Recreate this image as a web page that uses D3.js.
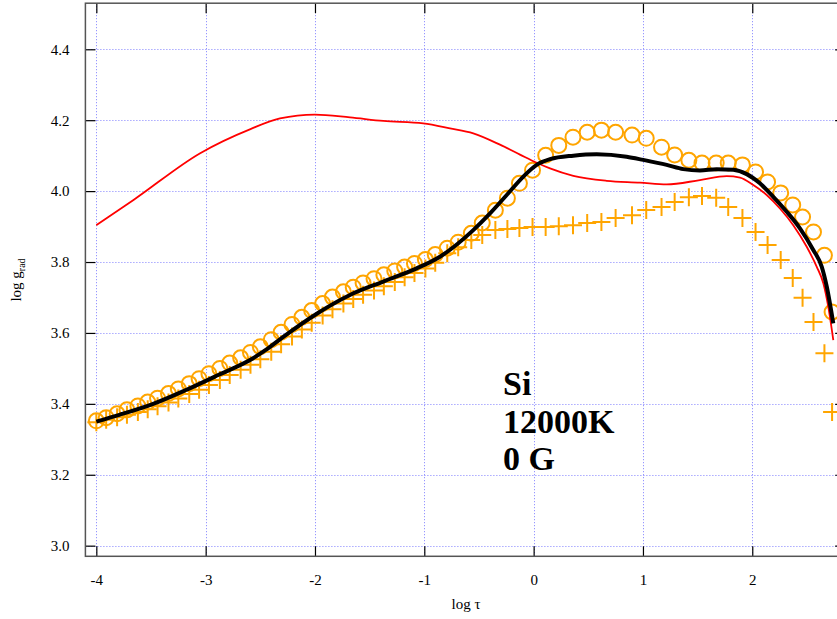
<!DOCTYPE html>
<html>
<head>
<meta charset="utf-8">
<script src="https://cdn.jsdelivr.net/npm/d3@7"></script>
<style>
  body { margin: 0; background: #fff; }
  text { font-family: "Liberation Serif", "DejaVu Serif", serif; }
</style>
</head>
<body>
<div class="chart"></div>
<script>
// shared depth grid (log tau) of the two marker series
const logTau = [-4.00, -3.91, -3.81, -3.72, -3.62, -3.53, -3.44, -3.34, -3.25, -3.15,
  -3.06, -2.97, -2.87, -2.78, -2.68, -2.59, -2.50, -2.40, -2.31, -2.21,
  -2.12, -2.03, -1.93, -1.84, -1.74, -1.65, -1.56, -1.46, -1.37, -1.27,
  -1.18, -1.09, -0.99, -0.90, -0.79, -0.69, -0.57, -0.47, -0.35, -0.24,
  -0.13, -0.01, 0.11, 0.23, 0.36, 0.49, 0.62, 0.75, 0.90, 1.03,
  1.17, 1.29, 1.42, 1.54, 1.67, 1.78, 1.91, 2.03, 2.14, 2.26,
  2.37, 2.46, 2.56, 2.66, 2.73];

// open circles
const circleVals = [3.352, 3.361, 3.372, 3.383, 3.394, 3.405, 3.416, 3.429, 3.442, 3.457,
  3.471, 3.485, 3.500, 3.515, 3.530, 3.545, 3.561, 3.581, 3.602, 3.624,
  3.644, 3.663, 3.683, 3.701, 3.716, 3.729, 3.741, 3.753, 3.764, 3.775,
  3.786, 3.796, 3.807, 3.821, 3.839, 3.856, 3.881, 3.910, 3.946, 3.980,
  4.022, 4.059, 4.101, 4.129, 4.152, 4.166, 4.172, 4.166, 4.158, 4.149,
  4.124, 4.102, 4.087, 4.079, 4.079, 4.079, 4.074, 4.054, 4.026, 3.995,
  3.961, 3.927, 3.885, 3.819, 3.659];

// plus markers
const plusVals = [3.348, 3.355, 3.362, 3.369, 3.377, 3.385, 3.393, 3.404, 3.415, 3.428,
  3.440, 3.453, 3.467, 3.481, 3.496, 3.510, 3.526, 3.547, 3.568, 3.590,
  3.610, 3.629, 3.649, 3.667, 3.683, 3.696, 3.708, 3.720, 3.732, 3.744,
  3.757, 3.769, 3.782, 3.798, 3.825, 3.842, 3.862, 3.876, 3.890, 3.893,
  3.896, 3.899, 3.899, 3.901, 3.904, 3.910, 3.913, 3.924, 3.932, 3.947,
  3.955, 3.969, 3.983, 3.986, 3.981, 3.955, 3.924, 3.885, 3.848, 3.806,
  3.755, 3.699, 3.631, 3.543, 3.377];

// thick black line
const blackX = [-4.00, -3.79, -3.48, -3.18, -2.88, -2.57, -2.45, -2.29, -1.98, -1.68,
  -1.375, -1.07, -0.857, -0.552, -0.399, -0.246, -0.094, 0.028, 0.15, 0.363,
  0.577, 0.851, 1.003, 1.217, 1.369, 1.521, 1.674, 1.826, 1.949, 2.070,
  2.192, 2.315, 2.436, 2.558, 2.635, 2.681, 2.741];
const blackY = [3.350, 3.369, 3.400, 3.439, 3.482, 3.528, 3.552, 3.589, 3.655, 3.707,
  3.745, 3.782, 3.815, 3.890, 3.937, 3.989, 4.041, 4.074, 4.090, 4.100,
  4.104, 4.097, 4.088, 4.074, 4.062, 4.058, 4.062, 4.060, 4.048, 4.022,
  3.984, 3.942, 3.895, 3.834, 3.787, 3.731, 3.627];

// thin red line
const redX = [-4.00, -3.66, -3.05, -2.59, -2.32, -2.0, -1.68, -1.375, -1.01, -0.765,
  -0.552, -0.308, -0.125, 0.028, 0.15, 0.363, 0.668, 0.973, 1.217, 1.521,
  1.766, 1.888, 2.009, 2.132, 2.253, 2.375, 2.498, 2.589, 2.650, 2.695, 2.741];
const redY = [3.904, 3.975, 4.107, 4.175, 4.205, 4.216, 4.208, 4.198, 4.191, 4.177,
  4.163, 4.131, 4.103, 4.080, 4.064, 4.043, 4.029, 4.024, 4.019, 4.031,
  4.042, 4.038, 4.017, 3.989, 3.951, 3.904, 3.843, 3.787, 3.740, 3.674, 3.580];

const xTicks = [-4, -3, -2, -1, 0, 1, 2];
const yTicks = [3.0, 3.2, 3.4, 3.6, 3.8, 4.0, 4.2, 4.4];
const labelLines = ["Si", "12000K", "0 G"];

const W = 837, H = 619;
const plot = { left: 85.4, right: 845.2, top: 3.2, bottom: 556.3 };

const svg = d3.select(".chart").append("svg")
    .attr("width", W)
    .attr("height", H);

const x = d3.scaleLinear().domain([-4.1, 2.85]).range([plot.left, plot.right]);
const y = d3.scaleLinear().domain([2.97, 4.53]).range([plot.bottom, plot.top]);

svg.append("defs").append("clipPath").attr("id", "clip")
  .append("rect")
    .attr("x", plot.left).attr("y", plot.top)
    .attr("width", plot.right - plot.left)
    .attr("height", plot.bottom - plot.top);

// grid
const grid = svg.append("g")
    .attr("stroke", "#7f7fff")
    .attr("stroke-width", 1)
    .attr("stroke-dasharray", "1,2");
grid.selectAll(".gx").data(xTicks).enter().append("line")
    .attr("x1", d => Math.round(x(d)) + 0.5).attr("x2", d => Math.round(x(d)) + 0.5)
    .attr("y1", plot.top).attr("y2", plot.bottom);
grid.selectAll(".gy").data(yTicks).enter().append("line")
    .attr("y1", d => Math.round(y(d)) + 0.5).attr("y2", d => Math.round(y(d)) + 0.5)
    .attr("x1", plot.left).attr("x2", plot.right);

// axes, ticks drawn inward on all four sides
svg.append("g")
    .attr("transform", `translate(0,${plot.bottom})`)
    .call(d3.axisBottom(x).tickValues(xTicks).tickSize(-10).tickPadding(18).tickFormat(d => String(d)))
    .call(g => g.select(".domain").remove());
svg.append("g")
    .attr("transform", `translate(0,${plot.top})`)
    .call(d3.axisTop(x).tickValues(xTicks).tickSize(-10).tickFormat(""))
    .call(g => g.select(".domain").remove());
svg.append("g")
    .attr("transform", `translate(${plot.left},0)`)
    .call(d3.axisLeft(y).tickValues(yTicks).tickSize(-10).tickPadding(16).tickFormat(d3.format(".1f")))
    .call(g => g.select(".domain").remove());
svg.append("g")
    .attr("transform", `translate(${plot.right},0)`)
    .call(d3.axisRight(y).tickValues(yTicks).tickSize(-10).tickFormat(""))
    .call(g => g.select(".domain").remove());

svg.selectAll(".tick line").attr("stroke", "#000").attr("stroke-width", 1.2);
svg.selectAll(".tick text")
    .attr("font-family", null)
    .style("font-family", "'Liberation Serif', serif")
    .style("font-size", "15px")
    .attr("fill", "#000");

// frame
svg.append("rect")
    .attr("x", plot.left).attr("y", plot.top)
    .attr("width", plot.right - plot.left)
    .attr("height", plot.bottom - plot.top)
    .attr("fill", "none")
    .attr("stroke", "#555")
    .attr("stroke-width", 1.5);

const layer = svg.append("g").attr("clip-path", "url(#clip)");

const markers = logTau.map((t, i) => ({ t, c: circleVals[i], p: plusVals[i] }));

// circles
layer.append("g").selectAll("circle")
  .data(markers).enter().append("circle")
    .attr("cx", d => x(d.t))
    .attr("cy", d => y(d.c))
    .attr("r", 7.5)
    .attr("fill", "none")
    .attr("stroke", "#ffa500")
    .attr("stroke-width", 2);

// pluses
layer.append("g").selectAll("path")
  .data(markers).enter().append("path")
    .attr("transform", d => `translate(${x(d.t)},${y(d.p)})`)
    .attr("d", "M-9,0H9M0,-9V9")
    .attr("fill", "none")
    .attr("stroke", "#ffa500")
    .attr("stroke-width", 2);

const line = d3.line()
    .x(d => x(d[0]))
    .y(d => y(d[1]))
    .curve(d3.curveMonotoneX);

layer.append("path")
    .datum(redX.map((v, i) => [v, redY[i]]))
    .attr("d", line)
    .attr("fill", "none")
    .attr("stroke", "#ff0000")
    .attr("stroke-width", 1.8);

layer.append("path")
    .datum(blackX.map((v, i) => [v, blackY[i]]))
    .attr("d", line)
    .attr("fill", "none")
    .attr("stroke", "#000")
    .attr("stroke-width", 4);

// label block
svg.append("g").selectAll("text")
  .data(labelLines).enter().append("text")
    .attr("x", 503)
    .attr("y", (d, i) => 395 + i * 37.5)
    .style("font-size", "34px")
    .style("font-weight", "bold")
    .text(d => d);

// axis titles
svg.append("text")
    .attr("x", 466)
    .attr("y", 609)
    .attr("text-anchor", "middle")
    .style("font-size", "15px")
    .text("log τ");

const yTitle = svg.append("text")
    .attr("transform", "translate(21,280) rotate(-90)")
    .attr("text-anchor", "middle")
    .style("font-size", "15px");
yTitle.append("tspan").text("log g");
yTitle.append("tspan").attr("dy", 4).style("font-size", "10px").text("rad");
</script>
</body>
</html>
